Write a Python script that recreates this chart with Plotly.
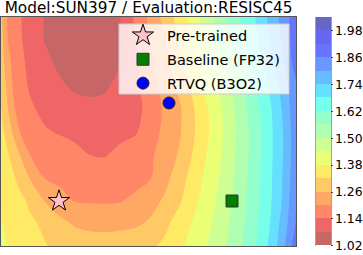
import plotly.graph_objects as go

# ---- data ----
x_coords = [0, 3, 7, 12, 19, 29, 44, 59, 74, 89, 104, 119, 134, 149, 164, 179,
            194, 209, 224, 239, 254, 269, 282, 295]
y_coords = [0, 22, 45, 68, 91, 114, 137, 160, 183, 206, 229]

loss_y0 = [1.397, 1.39, 1.38, 1.372, 1.36, 1.346, 1.323, 1.305, 1.293, 1.287, 1.286, 1.29, 1.298, 1.31, 1.332, 1.368, 1.407, 1.449, 1.494, 1.549, 1.615, 1.693, 1.78, 1.90]
loss_y22 = [1.385, 1.375, 1.365, 1.355, 1.345, 1.33, 1.31, 1.277, 1.255, 1.247, 1.245, 1.247, 1.252, 1.268, 1.307, 1.349, 1.391, 1.434, 1.485, 1.541, 1.606, 1.68, 1.765, 1.865]
loss_y45 = [1.375, 1.368, 1.36, 1.35, 1.335, 1.31, 1.258, 1.223, 1.197, 1.195, 1.194, 1.197, 1.212, 1.239, 1.269, 1.314, 1.369, 1.418, 1.472, 1.532, 1.597, 1.67, 1.748, 1.855]
loss_y68 = [1.364, 1.355, 1.345, 1.33, 1.30, 1.257, 1.198, 1.185, 1.175, 1.168, 1.167, 1.172, 1.182, 1.196, 1.242, 1.295, 1.352, 1.407, 1.463, 1.527, 1.595, 1.668, 1.744, 1.845]
loss_y91 = [1.352, 1.34, 1.325, 1.30, 1.26, 1.20, 1.185, 1.17, 1.155, 1.14, 1.137, 1.153, 1.172, 1.191, 1.223, 1.269, 1.333, 1.395, 1.453, 1.521, 1.59, 1.664, 1.74, 1.838]
loss_y114 = [1.335, 1.32, 1.29, 1.253, 1.20, 1.179, 1.146, 1.135, 1.127, 1.122, 1.121, 1.126, 1.134, 1.168, 1.218, 1.255, 1.32, 1.384, 1.449, 1.518, 1.588, 1.664, 1.74, 1.84]
loss_y137 = [1.322, 1.29, 1.26, 1.21, 1.18, 1.149, 1.125, 1.11, 1.10, 1.095, 1.097, 1.105, 1.12, 1.161, 1.211, 1.254, 1.324, 1.389, 1.454, 1.525, 1.597, 1.67, 1.748, 1.845]
loss_y160 = [1.31, 1.28, 1.24, 1.195, 1.163, 1.133, 1.11, 1.088, 1.072, 1.066, 1.072, 1.096, 1.126, 1.172, 1.224, 1.275, 1.346, 1.41, 1.477, 1.546, 1.615, 1.691, 1.767, 1.85]
loss_y183 = [1.29, 1.26, 1.22, 1.186, 1.154, 1.126, 1.095, 1.068, 1.055, 1.052, 1.058, 1.077, 1.126, 1.187, 1.242, 1.306, 1.371, 1.44, 1.505, 1.574, 1.643, 1.718, 1.794, 1.89]
loss_y206 = [1.284, 1.248, 1.20, 1.178, 1.147, 1.117, 1.077, 1.056, 1.046, 1.044, 1.052, 1.072, 1.135, 1.20, 1.26, 1.329, 1.394, 1.463, 1.532, 1.599, 1.663, 1.74, 1.813, 1.896]
loss_y229 = [1.275, 1.23, 1.192, 1.172, 1.144, 1.115, 1.076, 1.058, 1.048, 1.046, 1.055, 1.08, 1.149, 1.214, 1.283, 1.35, 1.417, 1.486, 1.551, 1.62, 1.68, 1.755, 1.824, 1.90]

loss_grid = [loss_y0, loss_y22, loss_y45, loss_y68, loss_y91, loss_y114,
             loss_y137, loss_y160, loss_y183, loss_y206, loss_y229]

level_start, level_end, level_step = 1.02, 2.04, 0.06
cbar_ticks = [1.02, 1.14, 1.26, 1.38, 1.50, 1.62, 1.74, 1.86, 1.98]

point_names = ["Pre-trained", "Baseline (FP32)", "RTVQ (B3O2)"]
point_x = [58, 231, 168]
point_y = [45, 45, 143]

# ---- style ----
# jet_r colours (alpha 0.6 over white) for the 17 filled bands, low -> high
band_colors = ["#c76666", "#f06666", "#ff8666", "#ffa866", "#ffc966", "#ffea66",
               "#eaff76", "#cdff93", "#b0ffb0", "#93ffcd", "#76ffea", "#66e0ff",
               "#66bcff", "#6698ff", "#6674ff", "#6666f0", "#6666c7"]
# outside-range half bands are left transparent so the colour bar shows 1.02..2.04 only
cols = ["rgba(255,255,255,0)"] + band_colors + ["rgba(255,255,255,0)"]
n = len(cols) - 1
colorscale = []
for j, c in enumerate(cols):
    lo = max(0.0, (j - 0.5) / n)
    hi = min(1.0, (j + 0.5) / n)
    colorscale.append([lo, c])
    colorscale.append([hi, c])

font_family = "DejaVu Sans"
W, H = 363, 255
ML, MR, MT, MB = 1, 67, 17, 9
PW, PH = W - ML - MR, H - MT - MB
CB_X0, CB_X1 = 316, 331
# plotly's filled-contour colour bar spans start-step/2 .. end+step/2
n_bands = round((level_end - level_start) / level_step)
cb_len_px = PH * (n_bands + 1) / n_bands


def px_x(p):  # page pixel -> paper x
    return (p - ML) / PW


def px_y(p):  # page pixel -> paper y
    return (H - MB - p) / PH


fig = go.Figure()
fig.add_trace(go.Contour(
    x=x_coords, y=y_coords, z=loss_grid,
    colorscale=colorscale,
    autocontour=False,
    contours=dict(start=level_start, end=level_end, size=level_step,
                  coloring="fill", showlines=False),
    line=dict(width=0),
    showlegend=False,
    hoverinfo="skip",
    colorbar=dict(
        x=px_x(CB_X0), xanchor="left", xpad=0, ypad=0,
        y=0.5, yanchor="middle", len=cb_len_px, lenmode="pixels",
        thickness=CB_X1 - CB_X0, thicknessmode="pixels",
        outlinewidth=0, bgcolor="rgba(0,0,0,0)",
        tickvals=cbar_ticks, ticktext=[f"{t:.2f}" for t in cbar_ticks],
        ticks="outside", ticklen=2, tickcolor="#444444",
        tickfont=dict(family=font_family, size=12.4, color="black"),
    ),
))

marker_styles = [
    dict(symbol="star", size=16, color="#ffc0cb", line=dict(color="black", width=1)),
    dict(symbol="square", size=12, color="#008000", line=dict(color="#333333", width=1)),
    dict(symbol="circle", size=12, color="#0000ff", line=dict(color="#222222", width=1)),
]
for name, px_, py_, ms in zip(point_names, point_x, point_y, marker_styles):
    fig.add_trace(go.Scatter(x=[px_], y=[py_], mode="markers", name=name,
                             legendgroup=name, marker=ms, hoverinfo="skip"))

# colour-bar outline
fig.add_shape(type="rect", xref="paper", yref="paper",
              x0=px_x(CB_X0), x1=px_x(CB_X1), y0=0, y1=1,
              fillcolor="rgba(0,0,0,0)", line=dict(color="#444444", width=1),
              layer="above")
# legend frame (semi-transparent white box like matplotlib's legend)
fig.add_shape(type="rect", xref="paper", yref="paper",
              x0=px_x(119), x1=px_x(289), y0=px_y(94), y1=px_y(24),
              fillcolor="rgba(255,255,255,0.8)", line=dict(color="#cccccc", width=1),
              layer="above")

fig.update_layout(
    width=W, height=H,
    margin=dict(l=ML, r=MR, t=MT, b=MB, autoexpand=False),
    paper_bgcolor="white", plot_bgcolor="white",
    font=dict(family=font_family, color="black"),
    title=dict(text="Model:SUN397 / Evaluation:RESISC45",
               font=dict(family=font_family, size=15.3, color="black"),
               x=0.5, xref="paper", xanchor="center",
               y=1 - 7.45 / 255, yref="container", yanchor="middle"),
    xaxis=dict(range=[0, 295], showticklabels=False, ticks="", showgrid=False,
               zeroline=False, showline=True, mirror=True, linecolor="#555555", linewidth=1),
    yaxis=dict(range=[0, 229], showticklabels=False, ticks="", showgrid=False,
               zeroline=False, showline=True, mirror=True, linecolor="#555555", linewidth=1),
    legend=dict(x=px_x(119), xanchor="left", y=px_y(19.5), yanchor="top",
                bgcolor="rgba(0,0,0,0)", borderwidth=0, itemwidth=38,
                tracegroupgap=2,
                font=dict(family=font_family, size=14.5, color="black")),
)

fig.write_html("out.html", config={"displayModeBar": False},
               post_script="document.body.style.margin='0';")
